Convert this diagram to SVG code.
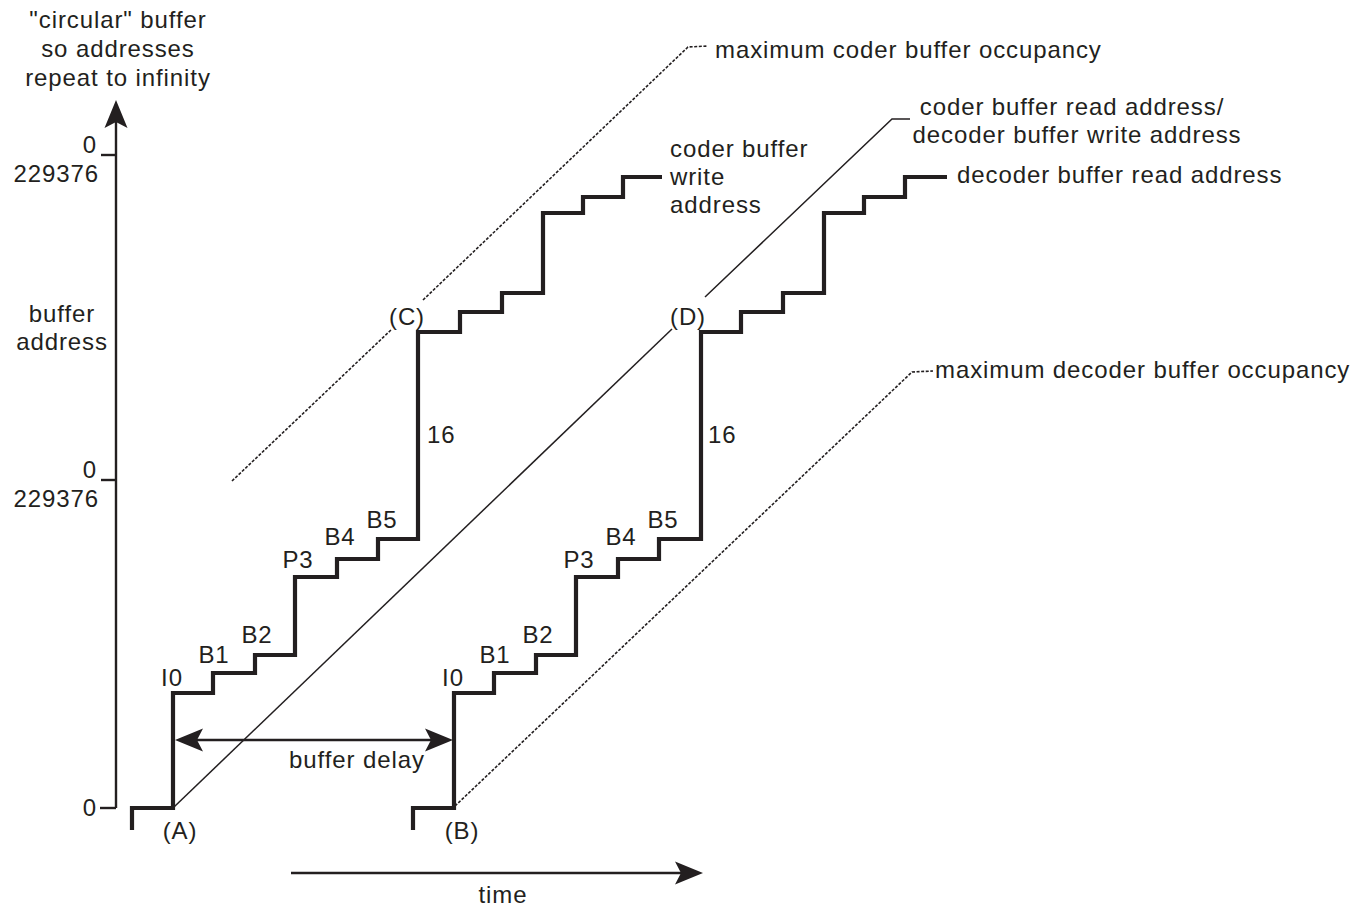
<svg xmlns="http://www.w3.org/2000/svg" width="1367" height="908" viewBox="0 0 1367 908">
<defs>
<style>
text{font-family:"Liberation Sans",Arial,Helvetica,sans-serif;font-size:24px;fill:#231f20;letter-spacing:0.9px}
.mid{text-anchor:middle}
.end{text-anchor:end}
.stair{fill:none;stroke:#231f20;stroke-width:4.2;stroke-linejoin:miter;stroke-linecap:butt}
.axis{fill:none;stroke:#231f20;stroke-width:2.4}
.thin{fill:none;stroke:#231f20;stroke-width:1.5}
.dot{fill:none;stroke:#231f20;stroke-width:1.6;stroke-dasharray:3 1.6}
</style>
<marker id="ah" viewBox="-26 -12 32 24" refX="0" refY="0" markerWidth="32" markerHeight="24" markerUnits="userSpaceOnUse" orient="auto-start-reverse">
<path d="M5,0 L-23,-11.5 L-17,0 L-23,11.5 Z" fill="#231f20"/>
</marker>
</defs>
<rect width="1367" height="908" fill="#ffffff"/>

<g id="axes">
<line class="axis" x1="116" y1="808" x2="116" y2="105" marker-end="url(#ah)"/>
<line class="axis" x1="101" y1="155" x2="116" y2="155"/>
<line class="axis" x1="101" y1="480" x2="116" y2="480"/>
<line class="axis" x1="100" y1="808" x2="116" y2="808"/>
<line class="axis" x1="291" y1="873" x2="698" y2="873" marker-end="url(#ah)"/>
<text class="mid" x="118" y="28">"circular" buffer</text>
<text class="mid" x="118" y="57">so addresses</text>
<text class="mid" x="118" y="86">repeat to infinity</text>
<text class="end" x="97" y="153">0</text>
<text class="end" x="99" y="182">229376</text>
<text class="end" x="97" y="478">0</text>
<text class="end" x="99" y="507">229376</text>
<text class="end" x="97" y="816">0</text>
<text class="mid" x="62" y="322">buffer</text>
<text class="mid" x="62" y="350">address</text>
<text class="mid" x="503" y="903">time</text>
</g>

<g id="connectors">
<line class="thin" x1="174" y1="807" x2="672" y2="329"/>
<polyline class="thin" points="705,297 892,119 910,119"/>
<polyline class="dot" points="232,481 392,329"/>
<polyline class="dot" points="423,300 688,47 708,46"/>
<polyline class="dot" points="455,806 912,372 933,371"/>
<line class="axis" x1="180" y1="740" x2="448" y2="740" marker-start="url(#ah)" marker-end="url(#ah)"/>
<text x="289" y="768">buffer delay</text>
</g>

<g id="coder-write">
<path class="stair" d="M132,830 V808 H173 V693 H213 V673 H255 V655 H295 V577 H337 V559 H378 V539 H418 V332 H460 V312 H502 V293 H543 V213 H583 V197 H623 V177 H662"/>
<text class="mid" x="172" y="686">I0</text>
<text class="mid" x="214" y="663">B1</text>
<text class="mid" x="257" y="643">B2</text>
<text class="mid" x="298" y="568">P3</text>
<text class="mid" x="340" y="545">B4</text>
<text class="mid" x="382" y="528">B5</text>
<text class="mid" x="407" y="325">(C)</text>
<text x="427" y="443">16</text>
<text class="mid" x="180" y="839">(A)</text>
<text x="670" y="157">coder buffer</text>
<text x="670" y="185">write</text>
<text x="670" y="213">address</text>
</g>

<g id="decoder-read">
<path class="stair" d="M413,830 V808 H454 V693 H494 V673 H536 V655 H576 V577 H618 V559 H659 V539 H701 V332 H741 V312 H783 V293 H824 V213 H864 V197 H905 V177 H947"/>
<text class="mid" x="453" y="686">I0</text>
<text class="mid" x="495" y="663">B1</text>
<text class="mid" x="538" y="643">B2</text>
<text class="mid" x="579" y="568">P3</text>
<text class="mid" x="621" y="545">B4</text>
<text class="mid" x="663" y="528">B5</text>
<text class="mid" x="688" y="325">(D)</text>
<text x="708" y="443">16</text>
<text class="mid" x="462" y="839">(B)</text>
<text x="957" y="183">decoder buffer read address</text>
</g>

<g id="labels">
<text x="715" y="58">maximum coder buffer occupancy</text>
<text class="mid" x="1072" y="115">coder buffer read address/</text>
<text class="mid" x="1077" y="143">decoder buffer write address</text>
<text x="935" y="378">maximum decoder buffer occupancy</text>
</g>
</svg>
